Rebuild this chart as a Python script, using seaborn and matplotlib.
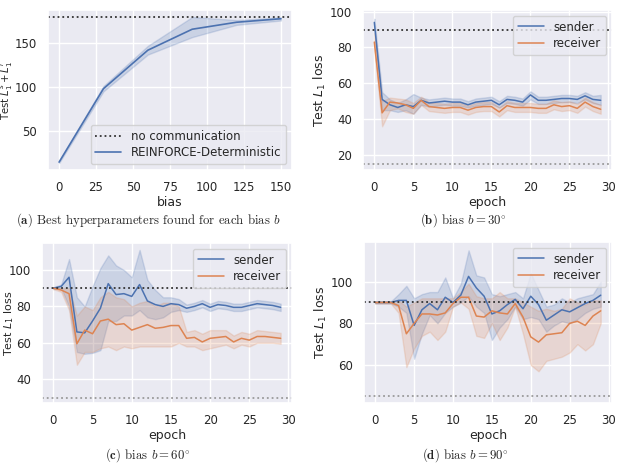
import numpy as np
import pandas as pd
import matplotlib
matplotlib.use("Agg")
import matplotlib.pyplot as plt
import seaborn as sns

# ---------------- data ----------------
bias = [0, 30, 60, 90, 120, 150]
a_mean = [14, 98, 142, 166, 174, 178]
a_lo = [13, 95, 137, 157, 171, 176]
a_hi = [15, 101, 147, 180, 176.5, 179.5]
a_nocomm = 180

epochs = list(range(30))

# (b) bias 30
b_s = [94, 51, 48, 46.5, 48, 47, 50.5, 49, 49.5, 50, 49.5, 49.5, 48, 49.5, 50, 50.5, 48, 51, 50.5, 49.5,
       53.5, 50.5, 50.5, 51, 51.5, 51.5, 51, 53, 51, 50.5]
b_s_lo = [90, 45, 45, 44, 45, 43, 48, 47, 47.5, 48, 47.5, 47.5, 46.5, 47.5, 48, 48.5, 46.5, 49, 48.5, 47.5,
          51, 48.5, 48.5, 49, 49.5, 49.5, 49, 51, 49, 48]
b_s_hi = [96, 55, 51, 49, 51, 54, 52, 51, 51.5, 52, 51.5, 51.5, 50, 51.5, 52, 52.5, 50, 53, 52.5, 51.5,
          55.5, 52.5, 52.5, 53, 53.5, 53.5, 53, 55, 53, 53.5]
b_r = [83, 43.5, 49.5, 49, 48, 46, 50.5, 47, 46.5, 46, 46.5, 46.5, 45, 46.5, 47, 47, 44, 47.5, 46.5, 46.5,
       46.5, 46, 46, 48, 47, 47.5, 46, 49.5, 47, 45.5]
b_r_lo = [78, 36, 45, 46, 44, 43, 48, 44.5, 44, 43.5, 44, 44, 42.5, 44, 44.5, 44.5, 41.5, 45, 44, 44,
          44, 43.5, 43.5, 45.5, 44.5, 45, 43.5, 47, 44.5, 43]
b_r_hi = [88, 50, 52, 51.5, 51, 49, 52.5, 49.5, 49, 48.5, 49, 49, 47.5, 49, 49.5, 49.5, 46.5, 50, 49, 49,
          49, 48.5, 48.5, 50.5, 49.5, 50, 48.5, 52, 49.5, 48]

# (c) bias 60
c_s = [90, 91, 96, 66, 65.5, 72, 79, 92.5, 86.5, 87, 85.5, 92, 83, 81, 80, 81.5, 81, 79, 80, 81.5,
       79.5, 81, 80.5, 79.5, 79.5, 80.5, 81.5, 81, 80.5, 79.5]
c_s_lo = [89.5, 90, 80, 55, 54, 54.5, 56, 72, 72, 75, 75, 78, 74, 73, 74, 77, 78, 77, 78, 79.5,
          77.5, 79, 78.5, 77.5, 77.5, 78.5, 79.5, 79, 78.5, 77.5]
c_s_hi = [90.5, 92, 106, 85, 80, 91, 101, 108, 102.5, 100, 96, 111, 94.5, 89, 85, 85, 84, 81, 82, 83.5,
          81.5, 83, 82.5, 81.5, 81.5, 82.5, 83.5, 83, 82.5, 81.5]
c_r = [90, 89, 87, 59.5, 67, 65, 72, 73, 70, 70.5, 67, 68.5, 70, 68, 68.5, 69.5, 69.5, 62.5, 63, 60.5,
       62.5, 63, 63.5, 60.5, 62.5, 61.5, 63.5, 63.5, 63, 62.5]
c_r_lo = [89.5, 88, 78, 48, 55, 55, 57, 58, 56, 58, 57, 58, 58, 58, 58, 58, 60, 58, 58, 56,
          57, 58, 59, 57, 59, 58, 60, 60, 60, 59.5]
c_r_hi = [90.5, 90, 90, 75, 80, 78, 85, 88, 85, 84, 80, 82, 83, 80, 82, 82, 80, 66, 67, 65,
          67, 67, 67, 64, 66, 65, 67, 66.5, 66, 65.5]

# (d) bias 90
d_s = [90, 90, 90, 91, 91, 79, 86.5, 89.5, 86.5, 92.5, 90, 93.5, 102.5, 97, 93, 84.5, 86, 89, 91.5, 87,
       93, 89, 81.5, 84, 86.5, 85.5, 87.5, 89.5, 91, 93.5]
d_s_lo = [89.5, 89.5, 89.5, 88, 85, 63, 75, 84, 80, 85, 88, 90, 93, 88, 85, 72, 78, 82, 88, 82,
          83, 82, 76, 79, 81, 80, 82, 85, 87, 88]
d_s_hi = [90.5, 90.5, 90.5, 94, 98, 92, 94, 95, 95, 102, 92, 99, 115, 103, 102, 94, 93, 94, 95, 92,
          104, 96, 88, 89, 92, 90, 92, 93, 94, 100]
d_r = [90, 90, 90, 88.5, 75, 80, 84.5, 84.5, 84, 85, 89.5, 92.5, 92.5, 83.5, 83, 86, 85, 84.5, 89.5, 83,
       73.5, 71, 74.5, 75, 75.5, 80, 81, 79, 83.5, 86]
d_r_lo = [89.5, 89.5, 89.5, 85, 59, 68, 74, 76, 72, 76, 88, 90, 87, 74, 73, 80, 72, 78, 88, 75,
          60, 57, 62, 63, 64, 66, 70, 67, 70, 80]
d_r_hi = [90.5, 90.5, 90.5, 91, 88, 90, 92, 92, 92, 92, 92, 95, 99, 93, 92, 92, 95, 92, 92, 90,
          88, 86, 87, 86, 87, 92, 90, 89, 91, 91]

no_comm = 90
lower = {"b": 15, "c": 30, "d": 45}

captions = {
    "a": (r"$\mathbf{(a)}$", r" Best hyperparameters found for each bias $b$"),
    "b": (r"$\mathbf{(b)}$", r" bias $b = 30^{\circ}$"),
    "c": (r"$\mathbf{(c)}$", r" bias $b = 60^{\circ}$"),
    "d": (r"$\mathbf{(d)}$", r" bias $b = 90^{\circ}$"),
}

# ---------------- style ----------------
sns.set_theme(style="darkgrid")
plt.rcParams.update({
    "font.family": ["DejaVu Sans"],
    "xtick.labelsize": 8.5,
    "ytick.labelsize": 8.5,
    "axes.labelsize": 9,
    "legend.fontsize": 8.5,
    "xtick.major.pad": 2,
    "ytick.major.pad": 2,
    "axes.labelpad": 1.5,
})
pal = sns.color_palette("deep")
blue, orange = pal[0], pal[1]


def long_frame(x, series):
    rows = []
    for name, (mid, lo, hi) in series.items():
        for xi, m, l, h in zip(x, mid, lo, hi):
            for v in (l, m, h):
                rows.append({"x": xi, "y": v, "agent": name})
    return pd.DataFrame(rows)


W, H = 618, 469
fig = plt.figure(figsize=(W / 100, H / 100), dpi=100)


def axes_px(l, t, r, b):
    return fig.add_axes([l / W, 1 - b / H, (r - l) / W, (b - t) / H])


# (a)
ax = axes_px(48, 10, 292, 170)
ax.axhline(a_nocomm, ls=":", color="#333333", lw=1.3, label="no communication")
dfa = long_frame(bias, {"REINFORCE-Deterministic": (a_mean, a_lo, a_hi)})
sns.lineplot(data=dfa, x="x", y="y", estimator="median", errorbar=("pi", 100),
             color=blue, lw=1.2, ax=ax, label="REINFORCE-Deterministic")
ax.set_xlim(-7.5, 157.5)
ax.set_ylim(5, 188)
ax.set_xticks([0, 25, 50, 75, 100, 125, 150])
ax.set_yticks([50, 100, 150])
ax.set_xlabel("bias")
ax.set_ylabel(r"Test $L_1^s + L_1^r$", fontsize=7.3)
ax.yaxis.set_label_coords(-0.136, 0.5)
ax.legend(loc="lower right", borderpad=0.4, labelspacing=0.3, handlelength=2.2)


def epoch_panel(rect, key, s, slo, shi, r, rlo, rhi, ylim, yticks):
    ax = axes_px(*rect)
    df = long_frame(epochs, {"sender": (s, slo, shi), "receiver": (r, rlo, rhi)})
    sns.lineplot(data=df, x="x", y="y", hue="agent", estimator="median",
                 errorbar=("pi", 100), palette=[blue, orange], lw=1.1, ax=ax)
    ax.axhline(no_comm, ls=":", color="#333333", lw=1.3)
    ax.axhline(lower[key], ls=":", color="#9a9a9a", lw=1.3)
    ax.set_xlim(-1.45, 30.45)
    ax.set_ylim(*ylim)
    ax.set_xticks([0, 5, 10, 15, 20, 25, 30])
    ax.set_yticks(yticks)
    ax.set_xlabel("epoch")
    ax.set_ylabel(r"Test $L_1$ loss")
    ax.legend(loc="upper right", borderpad=0.4, labelspacing=0.3, handlelength=2.2)
    return ax


epoch_panel((363, 10, 612, 170), "b", b_s, b_s_lo, b_s_hi, b_r, b_r_lo, b_r_hi,
            (11.6, 100.9), [20, 40, 60, 80, 100])
axc = epoch_panel((42, 243, 292, 403), "c", c_s, c_s_lo, c_s_hi, c_r, c_r_lo, c_r_hi,
                  (27, 114.8), [40, 60, 80, 100])
axc.yaxis.label.set_fontsize(8)
axc.yaxis.set_label_coords(-0.105, 0.5)
epoch_panel((364, 242, 612, 403), "d", d_s, d_s_lo, d_s_hi, d_r, d_r_lo, d_r_hi,
            (41.8, 119), [60, 80, 100])

# captions
cap_pos = {"a": (148, 220), "b": (463, 220), "c": (148, 455), "d": (465, 455)}
for k, (bold, rest) in captions.items():
    cx, cy = cap_pos[k]
    fig.text(cx / W, 1 - cy / H, bold + rest, ha="center", va="center",
             fontsize=9.2, family="cmr10", math_fontfamily="cm")

fig.savefig("out.png", dpi=100)
